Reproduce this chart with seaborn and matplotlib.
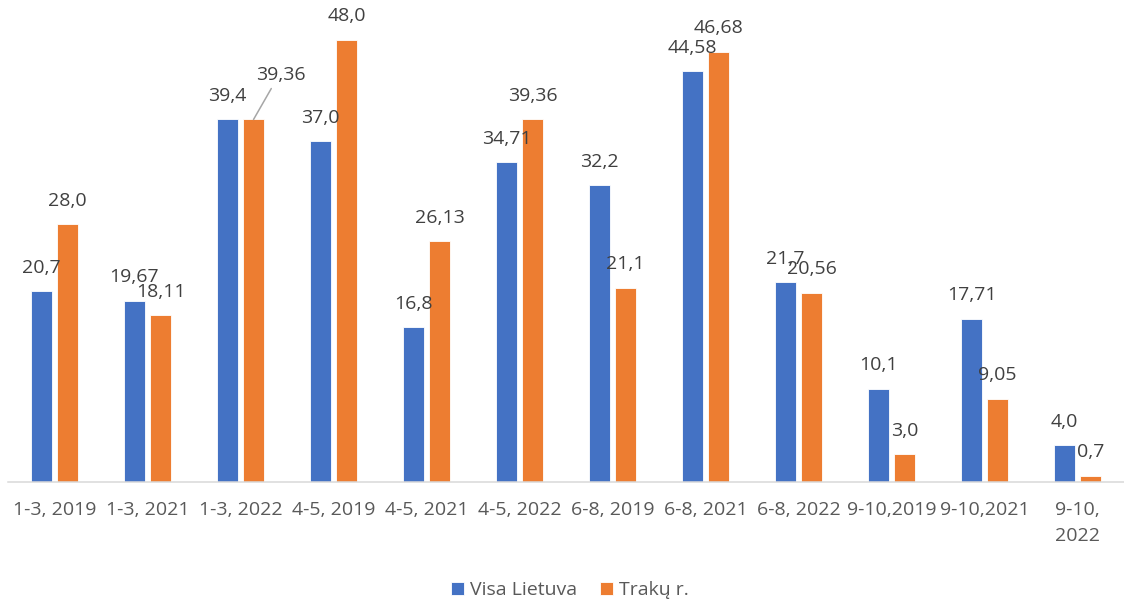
import pandas as pd
import matplotlib
matplotlib.use('Agg')
import matplotlib.pyplot as plt
import seaborn as sns

# Chart data
periods = ['1-3, 2019', '1-3, 2021', '1-3, 2022', '4-5, 2019', '4-5, 2021', '4-5, 2022',
           '6-8, 2019', '6-8, 2021', '6-8, 2022', '9-10,2019', '9-10,2021', '9-10,\n2022']
visa_lietuva = [20.7, 19.67, 39.4, 37.0, 16.8, 34.71, 32.2, 44.58, 21.7, 10.1, 17.71, 4.0]
traku_r = [28.0, 18.11, 39.36, 48.0, 26.13, 39.36, 21.1, 46.68, 20.56, 3.0, 9.05, 0.7]
series_names = ['Visa Lietuva', 'Trakų r.']
colors = ['#4472C4', '#ED7D31']

# Long form table for seaborn
df = pd.DataFrame({
    'period': periods * 2,
    'value': visa_lietuva + traku_r,
    'region': [series_names[0]] * len(periods) + [series_names[1]] * len(periods),
})

sns.set_style('white')
plt.rcParams['font.family'] = ['Open Sans', 'DejaVu Sans']

fig = plt.figure(figsize=(11.24, 6.03), dpi=100)
ax = fig.add_axes([8 / 1124, 121 / 603, 1116 / 1124, 460.5 / 603])

sns.barplot(data=df, x='period', y='value', hue='region', palette=colors,
            width=0.56, gap=0.23, edgecolor='white', linewidth=0.6,
            saturation=1, errorbar=None, legend=True, ax=ax)

ax.set_xlim(-0.5, len(periods) - 0.5)
ax.set_ylim(0, 50)
ax.set_xlabel('')
ax.set_ylabel('')
ax.set_yticks([])
ax.tick_params(axis='x', length=0, pad=14, labelsize=14, labelcolor='#595959')
for t in ax.get_xticklabels():
    t.set_linespacing(1.55)

for side in ['top', 'left', 'right']:
    ax.spines[side].set_visible(False)
ax.spines['bottom'].set_color('#d9d9d9')
ax.spines['bottom'].set_linewidth(1.1)

# Data labels with comma decimals
for ci, cont in enumerate(ax.containers):
    vals = visa_lietuva if ci == 0 else traku_r
    for i, (bar, v) in enumerate(zip(cont, vals)):
        txt = str(v).replace('.', ',')
        bx = bar.get_x() + bar.get_width() / 2
        by = bar.get_height()
        if ci == 1 and i == 2:
            # label moved aside with a leader line
            ax.annotate(txt, xy=(bx, by), xytext=(20, 32), textcoords='offset points',
                        ha='center', va='center', fontsize=14, color='#404040',
                        annotation_clip=False,
                        arrowprops=dict(arrowstyle='-', color='#a6a6a6', lw=1.1,
                                        shrinkA=1, shrinkB=0, relpos=(0.35, 0.0)))
        else:
            ax.annotate(txt, xy=(bx, by), xytext=(0, 17), textcoords='offset points',
                        ha='center', va='center', fontsize=14, color='#404040',
                        annotation_clip=False)

handles, labels = ax.get_legend_handles_labels()
ax.get_legend().remove()
fig.legend(handles, labels, loc='center', bbox_to_anchor=(0.507, 0.0216),
           ncol=2, frameon=False, fontsize=14, labelcolor='#595959',
           handlelength=0.65, handleheight=0.65, handletextpad=0.3,
           columnspacing=1.2)

fig.savefig('out.png', dpi=100)
